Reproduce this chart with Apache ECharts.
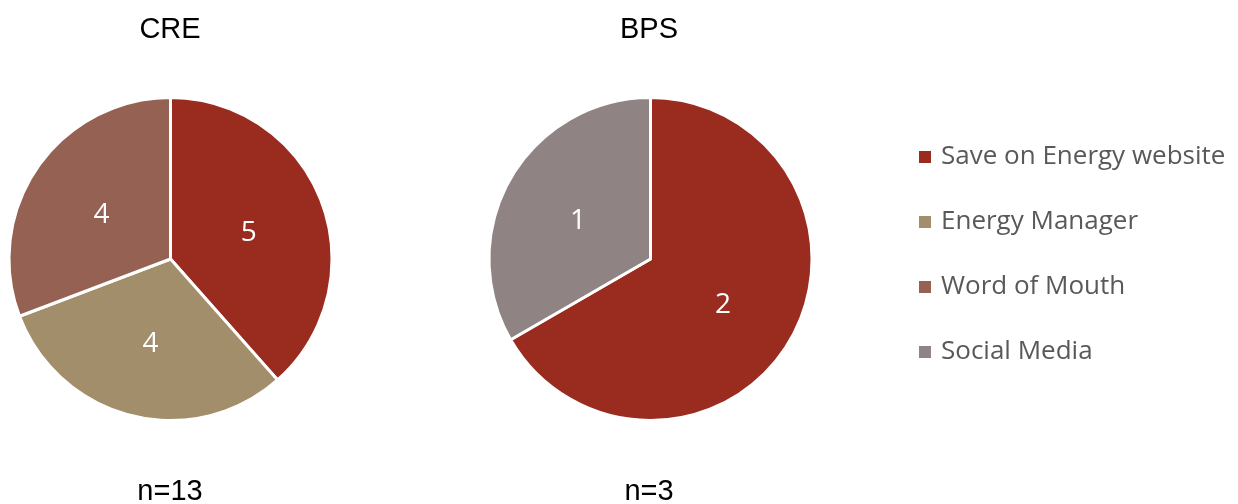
<!DOCTYPE html>
<html><head><meta charset="utf-8">
<script src="https://cdn.jsdelivr.net/npm/echarts@6/dist/echarts.min.js"></script>
<style>html,body{margin:0;padding:0;background:#fff}#c{width:1238px;height:504px}</style>
</head><body><div id="c"></div>
<script>
const categories = ["Save on Energy website", "Energy Manager", "Word of Mouth", "Social Media"];
const colors = ["#9A2B1F", "#A38E6B", "#946152", "#8F8383"];
const creValues = [5, 4, 4, 0];
const bpsValues = [2, 0, 0, 1];
const pieTitles = ["CRE", "BPS"];
const nLabels = ["n=13", "n=3"];

function buildData(vals) {
  return categories.map((c, i) => ({ name: c, value: vals[i], itemStyle: { color: colors[i] } }))
    .filter(d => d.value > 0);
}
const centersX = [170, 650];
const chart = echarts.init(document.getElementById('c'), null, { renderer: 'canvas' });
const titleStyle = { fontFamily: 'Liberation Sans, Arial', fontSize: 29, color: '#000', fontWeight: 'normal' };
chart.setOption({
  animation: false,
  title: [
    { text: pieTitles[0], left: centersX[0] - 5, top: 10, textAlign: 'center', textStyle: titleStyle },
    { text: pieTitles[1], left: centersX[1] - 6, top: 10, textAlign: 'center', textStyle: titleStyle },
    { text: nLabels[0], left: centersX[0] - 5, top: 472, textAlign: 'center', textStyle: titleStyle },
    { text: nLabels[1], left: centersX[1] - 6, top: 472, textAlign: 'center', textStyle: titleStyle }
  ],
  legend: {
    orient: 'vertical', left: 912, top: 137,
    icon: 'rect', itemWidth: 14, itemHeight: 14, itemGap: 35,
    data: categories,
    textStyle: { fontFamily: 'Open Sans', fontSize: 26, color: '#595959', lineHeight: 30, padding: [0,0,0,4] }
  },
  series: [creValues, bpsValues].map((vals, k) => ({
    type: 'pie',
    center: [centersX[k] + 0.5, 259],
    radius: 161.5,
    startAngle: 90,
    clockwise: true,
    data: buildData(vals),
    itemStyle: { borderColor: '#fff', borderWidth: 3 },
    label: { show: true, position: 'inner', formatter: '{c}', color: '#fff', fontFamily: 'Open Sans', fontSize: 28 },
    labelLayout: { dy: 4 },
    labelLine: { show: false },
    emphasis: { disabled: true }
  }))
});
</script></body></html>
